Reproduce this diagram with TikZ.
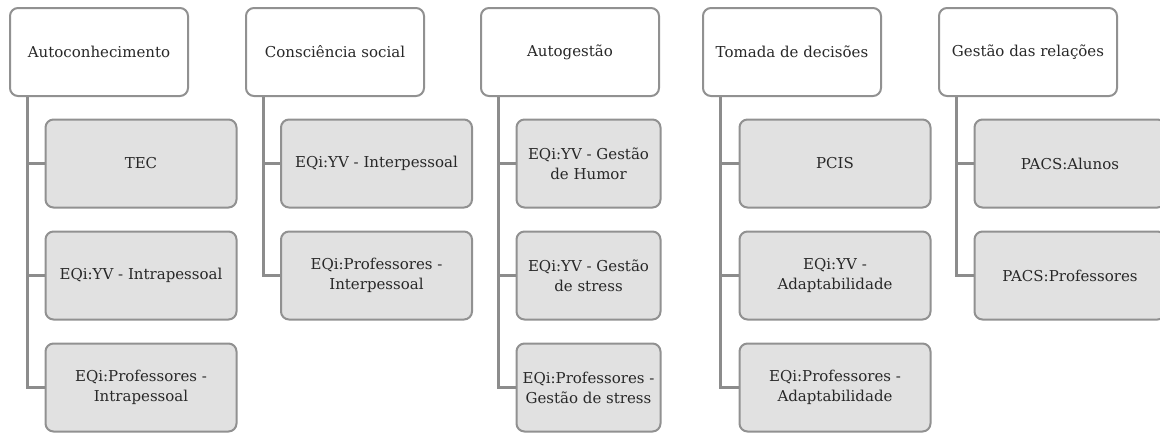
\documentclass[tikz,border=0pt]{standalone}
\usepackage{fontspec}
\setmainfont{DejaVu Serif}
\usetikzlibrary{positioning,calc}
\definecolor{boxgray}{RGB}{145,145,145}
\definecolor{subfill}{RGB}{225,225,225}
\definecolor{linkgray}{RGB}{140,140,140}
\definecolor{textgray}{RGB}{40,40,40}

\begin{document}
\begin{tikzpicture}[x=1pt, y=-1pt, node distance=22pt,
    head/.style={draw=boxgray, line width=2pt, rounded corners=8pt, fill=white, inner sep=0pt, text=textgray,
        minimum width=178pt, minimum height=88pt, align=center, font=\fontsize{15}{20}\selectfont},
    sub/.style={head, fill=subfill, minimum width=191pt},
    link/.style={draw=linkgray, line width=3pt}]
    \useasboundingbox (0,0) rectangle (1160,432);

    % Heads
    \node[head] (auto) at (99,52) {Autoconhecimento};
    \node[head] (cons) at (335,52) {Consciência social};
    \node[head] (gest) at (570,52) {Autogestão};
    \node[head] (toma) at (792,52) {Tomada de decisões};
    \node[head] (rela) at (1028,52) {Gestão das relações};

    % Autoconhecimento
    \node[sub] (auto1) at (141,163.5) {TEC};
    \node[sub, below=of auto1] (auto2) {EQi:YV - Intrapessoal};
    \node[sub, below=of auto2] (auto3) {EQi:Professores -\\Intrapessoal};

    % Consciencia social
    \node[sub] (cons1) at (376.5,163.5) {EQi:YV - Interpessoal};
    \node[sub, below=of cons1] (cons2) {EQi:Professores -\\Interpessoal};

    % Autogestao
    \node[sub, minimum width=144pt] (gest1) at (588.5,163.5) {EQi:YV - Gestão\\de Humor};
    \node[sub, minimum width=144pt, below=of gest1] (gest2) {EQi:YV - Gestão\\de stress};
    \node[sub, minimum width=144pt, below=of gest2] (gest3) {EQi:Professores -\\Gestão de stress};

    % Tomada de decisoes
    \node[sub] (toma1) at (835,163.5) {PCIS};
    \node[sub, below=of toma1] (toma2) {EQi:YV -\\Adaptabilidade};
    \node[sub, below=of toma2] (toma3) {EQi:Professores -\\Adaptabilidade};

    % Gestao das relacoes
    \node[sub] (rela1) at (1070,163.5) {PACS:Alunos};
    \node[sub, below=of rela1] (rela2) {PACS:Professores};

    % Connectors
    \draw[link] ([xshift=18pt]auto.south west) |- (auto1.west);
    \draw[link] ([xshift=18pt]auto.south west) |- (auto2.west);
    \draw[link] ([xshift=18pt]auto.south west) |- (auto3.west);
    \draw[link] ([xshift=18pt]cons.south west) |- (cons1.west);
    \draw[link] ([xshift=18pt]cons.south west) |- (cons2.west);
    \draw[link] ([xshift=18pt]gest.south west) |- (gest1.west);
    \draw[link] ([xshift=18pt]gest.south west) |- (gest2.west);
    \draw[link] ([xshift=18pt]gest.south west) |- (gest3.west);
    \draw[link] ([xshift=18pt]toma.south west) |- (toma1.west);
    \draw[link] ([xshift=18pt]toma.south west) |- (toma2.west);
    \draw[link] ([xshift=18pt]toma.south west) |- (toma3.west);
    \draw[link] ([xshift=18pt]rela.south west) |- (rela1.west);
    \draw[link] ([xshift=18pt]rela.south west) |- (rela2.west);

\end{tikzpicture}
\end{document}
